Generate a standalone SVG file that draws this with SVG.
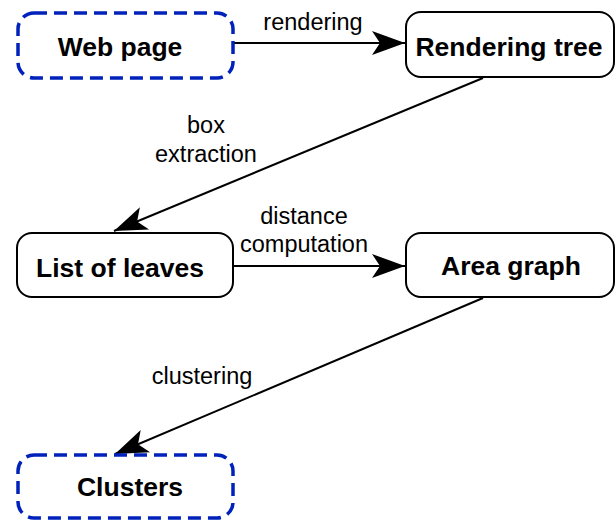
<svg xmlns="http://www.w3.org/2000/svg" width="615" height="520" viewBox="0 0 615 520">
<style>
.solid{fill:#fff;stroke:#000;stroke-width:2}
.dash{fill:#fff;stroke:#0022bb;stroke-width:3.5;stroke-dasharray:13 7}
.nt{font-family:"Liberation Sans",Arial,sans-serif;font-weight:bold;font-size:26.5px;fill:#000;text-anchor:middle}
.lt{font-family:"Liberation Sans",Arial,sans-serif;font-size:23.5px;fill:#000;text-anchor:middle}
.edge{fill:none;stroke:#000;stroke-width:2}
</style>
<defs>
<marker id="arr" viewBox="-36 -14 38 28" markerWidth="38" markerHeight="28" refX="0" refY="0" orient="auto" markerUnits="userSpaceOnUse">
<path d="M0,0 L-33,-12 L-25,0 L-33,12 Z" fill="#000"/>
</marker>
</defs>
<g id="connectors">
<line class="edge" x1="234" y1="43" x2="405" y2="43" marker-end="url(#arr)"/>
<line class="edge" x1="483" y1="78" x2="114" y2="231" marker-end="url(#arr)"/>
<line class="edge" x1="234" y1="266" x2="405" y2="266" marker-end="url(#arr)"/>
<line class="edge" x1="483" y1="298" x2="115" y2="454" marker-end="url(#arr)"/>
<text class="lt" x="313" y="30">rendering</text>
<text class="lt" x="206" y="133">box</text>
<text class="lt" x="206" y="162">extraction</text>
<text class="lt" x="304" y="224">distance</text>
<text class="lt" x="304" y="252">computation</text>
<text class="lt" x="202" y="384">clustering</text>
</g>
<g id="webpage">
<rect class="dash" x="18" y="13" width="215" height="65" rx="16"/>
<text class="nt" x="120" y="56">Web page</text>
</g>
<g id="renderingtree">
<rect class="solid" x="406" y="12" width="208" height="65" rx="15"/>
<text class="nt" x="509" y="56">Rendering tree</text>
</g>
<g id="listofleaves">
<rect class="solid" x="17" y="233" width="216" height="64" rx="15"/>
<text class="nt" x="120" y="277">List of leaves</text>
</g>
<g id="areagraph">
<rect class="solid" x="406" y="233" width="208" height="64" rx="15"/>
<text class="nt" x="511" y="275">Area graph</text>
</g>
<g id="clusters">
<rect class="dash" x="18" y="455" width="215" height="63" rx="16"/>
<text class="nt" x="130" y="496">Clusters</text>
</g>
</svg>
